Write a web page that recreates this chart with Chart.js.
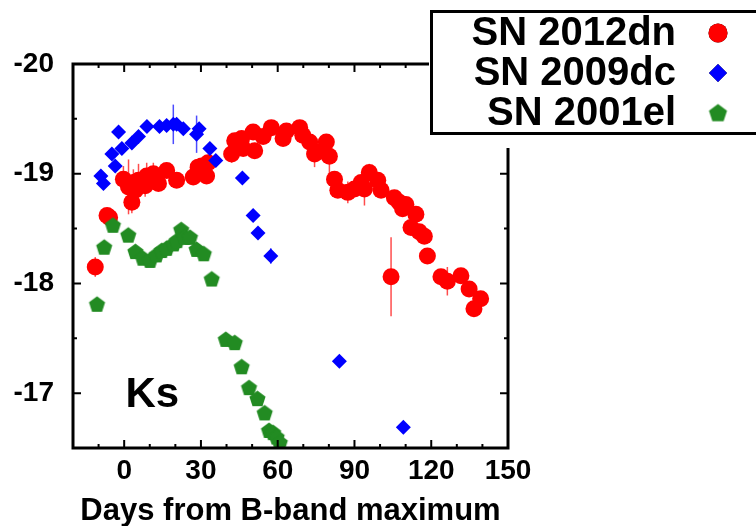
<!DOCTYPE html>
<html>
<head>
<meta charset="utf-8">
<script src="https://cdn.jsdelivr.net/npm/chart.js@4.4.0/dist/chart.umd.min.js"></script>
<style>
  html, body { margin: 0; padding: 0; background: #ffffff; }
</style>
</head>
<body>
<canvas id="ksChart" width="756" height="526"></canvas>
<script>
// SN 2012dn (red circles)
const dnDays = [-11.3, -6.7, -5.7, -0.3, 1.7, 3.0, 3.6, 4.3, 5.6, 8.2, 8.8, 10.1, 11.4, 13.4, 16.6, 20.5,
  27.0, 28.9, 30.3, 32.2, 32.8, 42.0, 43.2, 45.9, 46.5, 50.4, 51.0, 54.3, 57.5, 62.1, 63.4, 68.6, 69.8,
  72.5, 74.4, 75.7, 79.0, 80.2, 82.2, 83.5, 87.4, 90.0, 92.6, 93.9, 95.8, 99.1, 100.4, 104.3, 105.6,
  107.5, 108.8, 110.1, 112.1, 114.0, 115.3, 117.3, 118.5, 123.8, 126.3, 131.6, 134.8, 136.7, 139.3];
const dnMags = [-18.15, -18.62, -18.60, -18.95, -18.88, -18.74, -18.92, -18.85, -18.94, -18.89, -18.98, -18.95, -19.00, -18.91, -19.03, -18.94,
  -18.97, -19.06, -19.07, -18.98, -19.10, -19.18, -19.30, -19.32, -19.23, -19.38, -19.21, -19.34, -19.42, -19.32, -19.39, -19.42, -19.35,
  -19.29, -19.18, -19.20, -19.29, -19.16, -18.95, -18.85, -18.83, -18.86, -18.92, -18.86, -19.01, -18.94, -18.85, -18.06, -18.78,
  -18.74, -18.68, -18.72, -18.51, -18.63, -18.47, -18.43, -18.25, -18.06, -18.02, -18.07, -17.95, -17.77, -17.86];
const dnErr = [0.09, 0, 0, 0.12, 0.25, 0.1, 0.12, 0.1, 0.15, 0.1, 0.12, 0, 0.1, 0, 0, 0,
  0, 0, 0.05, 0, 0, 0.08, 0, 0, 0, 0, 0, 0, 0, 0, 0, 0.07, 0,
  0, 0.12, 0, 0, 0.17, 0, 0, 0.1, 0, 0, 0.15, 0.08, 0, 0, 0.36, 0,
  0, 0, 0, 0, 0, 0, 0, 0, 0.07, 0.13, 0.06, 0.05, 0.07, 0.06];

// SN 2009dc (blue diamonds)
const dcDays = [-9.1, -8.1, -4.8, -3.5, -2.2, -0.9, 3.0, 5.6, 8.9, 13.8, 16.6, 19.2, 20.5, 23.1,
  28.3, 29.3, 33.5, 35.8, 46.2, 50.4, 52.3, 57.3, 84.1, 109.1];
const dcMags = [-18.98, -18.91, -19.18, -19.07, -19.38, -19.23, -19.28, -19.34, -19.43, -19.43, -19.44, -19.45, -19.45, -19.41,
  -19.36, -19.41, -19.23, -19.12, -18.96, -18.62, -18.46, -18.25, -17.29, -16.69];
const dcErr = [0, 0, 0, 0, 0, 0, 0, 0.05, 0, 0, 0, 0.18, 0, 0,
  0.17, 0, 0, 0, 0, 0, 0, 0.07, 0, 0.03];

// SN 2001el (green pentagons)
const elDays = [-10.6, -7.8, -4.4, 1.6, 4.4, 7.3, 10.1, 12.6, 14.7, 16.6, 19.3, 20.6, 22.3, 23.6,
  25.7, 28.3, 31.1, 34.2, 39.7, 43.2, 45.9, 48.8, 52.1, 54.9, 56.6, 58.2, 59.6, 60.8];
const elMags = [-17.81, -18.33, -18.53, -18.44, -18.29, -18.23, -18.21, -18.26, -18.30, -18.32, -18.36, -18.39, -18.49, -18.42,
  -18.42, -18.31, -18.27, -18.04, -17.49, -17.46, -17.24, -17.05, -16.95, -16.82, -16.66, -16.64, -16.60, -16.55];

const xTickValues = [0, 30, 60, 90, 120, 150];
const yTickValues = [-20, -19, -18, -17];
const fontFam = '"Liberation Sans", Arial, Helvetica, sans-serif';

function toPoints(days, mags) {
    return days.map((d, i) => ({ x: d, y: mags[i] }));
}

// pentagon marker, drawn once on a small canvas
function makePentagon(r, color) {
    const s = Math.ceil(r * 2 + 2);
    const c = document.createElement('canvas');
    c.width = s;
    c.height = s;
    const g = c.getContext('2d');
    g.fillStyle = color;
    g.beginPath();
    for (let i = 0; i < 5; i++) {
        const a = -Math.PI / 2 + i * 2 * Math.PI / 5;
        const px = s / 2 + r * Math.cos(a);
        const py = s / 2 + 0.6 + r * Math.sin(a);
        if (i === 0) g.moveTo(px, py); else g.lineTo(px, py);
    }
    g.closePath();
    g.fill();
    return c;
}
const pentSmall = makePentagon(8.5, '#228b22');
const pentLegend = makePentagon(9.5, '#228b22');

const errorBars = {
    id: 'errorBars',
    beforeDatasetsDraw(chart) {
        const ctx = chart.ctx;
        const xs = chart.scales.x, ys = chart.scales.y;
        const a = chart.chartArea;
        ctx.save();
        ctx.beginPath();
        ctx.rect(a.left, a.top, a.right - a.left, a.bottom - a.top);
        ctx.clip();
        chart.data.datasets.forEach(ds => {
            if (!ds.errors) return;
            ctx.strokeStyle = ds.errColor;
            ctx.lineWidth = 1.5;
            ds.data.forEach((p, i) => {
                const e = ds.errors[i];
                if (!e) return;
                const px = xs.getPixelForValue(p.x);
                ctx.beginPath();
                ctx.moveTo(px, ys.getPixelForValue(p.y - e));
                ctx.lineTo(px, ys.getPixelForValue(p.y + e));
                ctx.stroke();
            });
        });
        ctx.restore();
    }
};

const frameAndLegend = {
    id: 'frameAndLegend',
    afterDraw(chart) {
        const ctx = chart.ctx;
        const xs = chart.scales.x, ys = chart.scales.y;
        const a = chart.chartArea;
        ctx.save();
        // frame
        ctx.strokeStyle = '#000';
        ctx.lineWidth = 3;
        ctx.strokeRect(a.left, a.top, a.right - a.left, a.bottom - a.top);
        // inward ticks, all four sides
        ctx.lineWidth = 2;
        for (let d = -10; d < 150; d += 10) {
            const px = xs.getPixelForValue(d);
            const len = (d % 30 === 0) ? 8 : 4;
            ctx.beginPath();
            ctx.moveTo(px, a.bottom); ctx.lineTo(px, a.bottom - len);
            ctx.moveTo(px, a.top); ctx.lineTo(px, a.top + len);
            ctx.stroke();
        }
        for (let m = -19.5; m <= -17; m += 0.5) {
            const py = ys.getPixelForValue(m);
            const len = (m % 1 === 0) ? 8 : 4;
            ctx.beginPath();
            ctx.moveTo(a.left, py); ctx.lineTo(a.left + len, py);
            ctx.moveTo(a.right, py); ctx.lineTo(a.right - len, py);
            ctx.stroke();
        }
        // band label
        ctx.fillStyle = '#000';
        ctx.font = 'bold 42px ' + fontFam;
        ctx.textAlign = 'center';
        ctx.textBaseline = 'middle';
        ctx.fillText('Ks', xs.getPixelForValue(11), ys.getPixelForValue(-16.98));

        // legend box
        ctx.fillStyle = '#fff';
        ctx.fillRect(429, 0, 327, 148);
        ctx.strokeStyle = '#000';
        ctx.lineWidth = 3;
        ctx.strokeRect(431.5, 11.5, 340, 122);
        ctx.font = 'bold 40px ' + fontFam;
        ctx.textAlign = 'right';
        ctx.fillStyle = '#000';
        const rowsY = [33, 73, 113];
        chart.data.datasets.forEach((ds, i) => {
            ctx.fillStyle = '#000';
            ctx.fillText(ds.label, 676, rowsY[i] + 1);
            Chart.helpers.drawPoint(ctx, {
                pointStyle: ds.legendStyle,
                radius: ds.legendRadius,
                rotation: 0,
                borderWidth: 0
            }, 718, rowsY[i]);
            if (ds.legendStyle !== pentLegend) {
                ctx.fillStyle = ds.backgroundColor;
                ctx.fill();
            }
        });
        ctx.restore();
    }
};

const ctx = document.getElementById('ksChart').getContext('2d');
new Chart(ctx, {
    type: 'scatter',
    data: {
        datasets: [{
            label: 'SN 2012dn',
            data: toPoints(dnDays, dnMags),
            errors: dnErr,
            errColor: 'rgba(255, 0, 0, 0.7)',
            backgroundColor: '#ff0000',
            borderWidth: 0,
            pointStyle: 'circle',
            pointRadius: 8.5,
            legendStyle: 'circle',
            legendRadius: 9.5,
            order: 3
        }, {
            label: 'SN 2009dc',
            data: toPoints(dcDays, dcMags),
            errors: dcErr,
            errColor: 'rgba(0, 0, 255, 0.7)',
            backgroundColor: '#0000ff',
            borderWidth: 0,
            pointStyle: 'rectRot',
            pointRadius: 7.5,
            legendStyle: 'rectRot',
            legendRadius: 9,
            order: 2
        }, {
            label: 'SN 2001el',
            data: toPoints(elDays, elMags),
            backgroundColor: '#228b22',
            borderWidth: 0,
            pointStyle: pentSmall,
            legendStyle: pentLegend,
            legendRadius: 9,
            order: 1
        }]
    },
    options: {
        responsive: false,
        animation: false,
        layout: {
            padding: { top: 64, right: 248, left: 0, bottom: 0 }
        },
        plugins: {
            legend: { display: false },
            tooltip: { enabled: false }
        },
        scales: {
            x: {
                type: 'linear',
                min: -20,
                max: 150,
                afterFit: function(scale) { scale.height = 78; },
                afterBuildTicks: function(scale) {
                    scale.ticks = xTickValues.map(v => ({ value: v }));
                },
                grid: { display: false, drawTicks: false },
                border: { display: false },
                ticks: {
                    color: '#000',
                    padding: 6,
                    maxRotation: 0,
                    font: { family: fontFam, size: 28, weight: 'bold' }
                },
                title: {
                    display: true,
                    text: 'Days from B-band maximum',
                    color: '#000',
                    padding: { top: 0, bottom: 0 },
                    font: { family: fontFam, size: 31, weight: 'bold', lineHeight: 0.95 }
                }
            },
            y: {
                type: 'linear',
                min: -20,
                max: -16.5,
                reverse: true,
                afterFit: function(scale) { scale.width = 73; },
                afterBuildTicks: function(scale) {
                    scale.ticks = yTickValues.map(v => ({ value: v }));
                },
                grid: { display: false, drawTicks: false },
                border: { display: false },
                ticks: {
                    color: '#000',
                    padding: 19,
                    font: { family: fontFam, size: 28, weight: 'bold' }
                }
            }
        }
    },
    plugins: [errorBars, frameAndLegend]
});
</script>
</body>
</html>
